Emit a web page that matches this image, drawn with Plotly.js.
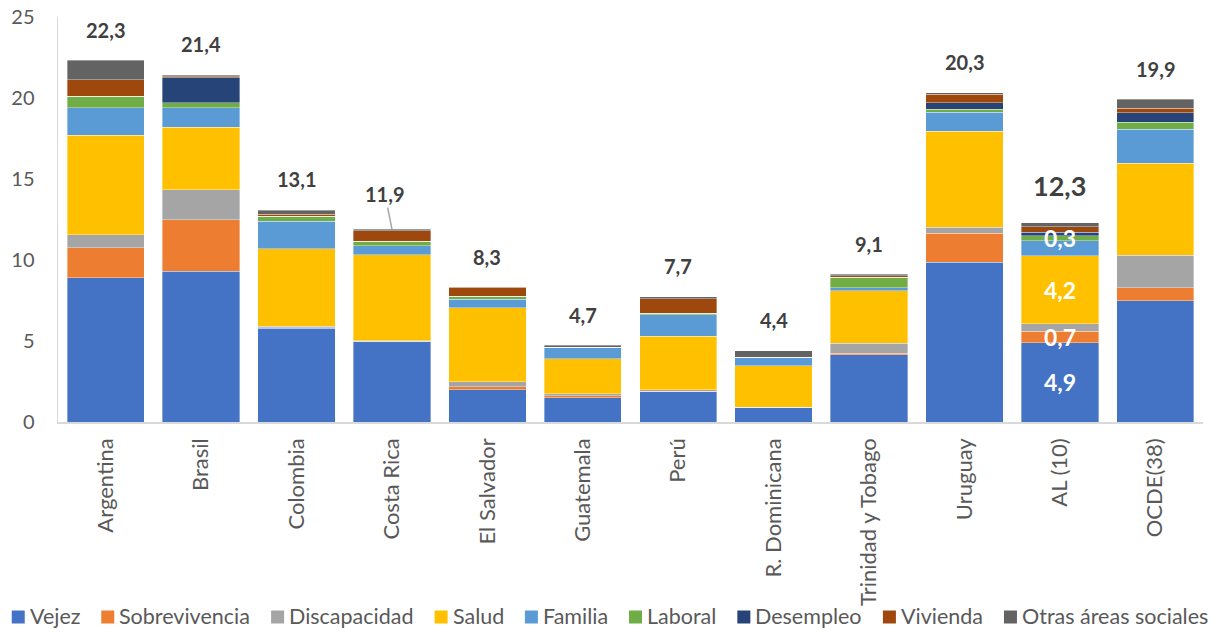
<!DOCTYPE html>
<html>
<head>
<meta charset="utf-8">
<script src="https://cdn.plot.ly/plotly-3.0.1.min.js"></script>
<style>html,body{margin:0;padding:0;background:#fff;}#chart{width:1221px;height:632px;}</style>
</head>
<body>
<div id="chart"></div>
<script>
const categories = ["Argentina","Brasil","Colombia","Costa Rica","El Salvador","Guatemala","Perú","R. Dominicana","Trinidad y Tobago","Uruguay","AL (10)","OCDE(38)"];
const vejez         = [8.90, 9.30, 5.80, 5.00, 2.00, 1.50, 1.87, 0.90, 4.14, 9.85, 4.90, 7.50];
const sobrevivencia = [1.85, 3.20, 0.03, 0.00, 0.17, 0.12, 0.03, 0.00, 0.10, 1.80, 0.70, 0.80];
const discapacidad  = [0.80, 1.85, 0.07, 0.02, 0.33, 0.13, 0.10, 0.02, 0.62, 0.37, 0.45, 2.00];
const salud         = [6.15, 3.85, 4.80, 5.30, 4.55, 2.15, 3.30, 2.55, 3.23, 5.94, 4.20, 5.66];
const familia       = [1.70, 1.20, 1.68, 0.57, 0.52, 0.70, 1.33, 0.53, 0.20, 1.16, 0.95, 2.10];
const laboral       = [0.72, 0.30, 0.33, 0.28, 0.20, 0.02, 0.09, 0.00, 0.66, 0.18, 0.30, 0.45];
const desempleo     = [0.00, 1.55, 0.00, 0.00, 0.00, 0.00, 0.00, 0.00, 0.00, 0.41, 0.20, 0.57];
const vivienda      = [1.00, 0.05, 0.12, 0.63, 0.55, 0.00, 0.88, 0.00, 0.07, 0.52, 0.35, 0.30];
const otras         = [1.20, 0.10, 0.25, 0.10, 0.02, 0.12, 0.12, 0.40, 0.10, 0.08, 0.25, 0.55];
const totals        = [22.3, 21.4, 13.1, 11.9, 8.3, 4.7, 7.7, 4.4, 9.1, 20.3, 12.3, 19.9];
const yTicks        = [0, 5, 10, 15, 20, 25];

const seriesNames  = ["Vejez","Sobrevivencia","Discapacidad","Salud","Familia","Laboral","Desempleo","Vivienda","Otras áreas sociales"];
const seriesValues = [vejez, sobrevivencia, discapacidad, salud, familia, laboral, desempleo, vivienda, otras];
const colors = ["#4472C4","#ED7D31","#A5A5A5","#FFC000","#5B9BD5","#70AD47","#264478","#9E480E","#636363"];

const FONT = "Lato, 'Open Sans', sans-serif";
const W = 1221, H = 632;
const M = {l: 58, r: 18, t: 17, b: 210};
const PW = W - M.l - M.r, PH = H - M.t - M.b;
const px2x = px => (px - M.l) / PW;
const py2y = py => (H - M.b - py) / PH;

const traces = seriesNames.map((n, i) => ({
  type: "bar",
  name: n,
  x: categories,
  y: seriesValues[i],
  marker: {color: colors[i], line: {color: "rgba(255,255,255,0.6)", width: 0.6}},
  hoverinfo: "skip"
}));

const fmt = v => v.toFixed(1).replace(".", ",");

const annotations = [];
const shapes = [];
totals.forEach((t, i) => {
  const isAL = categories[i] === "AL (10)";
  const isCR = categories[i] === "Costa Rica";
  if (isCR) {
    annotations.push({
      x: categories[i], y: t, xref: "x", yref: "y",
      text: "<b>" + fmt(t) + "</b>",
      showarrow: true, arrowhead: 0, arrowwidth: 1.5, arrowcolor: "#A5A5A5",
      ax: -7, ay: -35, standoff: 0,
      font: {family: FONT, size: 20, color: "#404040"}
    });
  } else {
    annotations.push({
      x: categories[i], y: t, xref: "x", yref: "y",
      text: "<b>" + fmt(t) + "</b>",
      showarrow: false, yanchor: "middle", yshift: isAL ? 37 : 31,
      font: {family: FONT, size: isAL ? 27 : 20, color: "#404040"}
    });
  }
});

// inner labels for AL (10)
const alIdx = categories.indexOf("AL (10)");
const labelSeries = [0, 1, 3, 5]; // Vejez, Sobrevivencia, Salud, Laboral
let cum = [];
let acc = 0;
seriesValues.forEach(arr => { cum.push(acc); acc += arr[alIdx]; });
labelSeries.forEach(s => {
  const v = seriesValues[s][alIdx];
  annotations.push({
    x: categories[alIdx], y: cum[s] + v / 2, xref: "x", yref: "y",
    text: "<b>" + fmt(v) + "</b>", showarrow: false, yanchor: "middle",
    font: {family: FONT, size: 23, color: "#FFFFFF"}
  });
});

// legend (single row, Excel-like spacing)
const LEG_FONT = 21.5, SQ = 13, SQ_GAP = 5, ITEM_GAP = 21, LEG_CY = 617, LEG_CX = 610;
const ctx = document.createElement("canvas").getContext("2d");
ctx.font = LEG_FONT + "px Lato";
const tw = seriesNames.map(n => ctx.measureText(n).width);
const totalW = tw.reduce((a, b) => a + b, 0) + seriesNames.length * (SQ + SQ_GAP) + (seriesNames.length - 1) * ITEM_GAP;
let cx = LEG_CX - totalW / 2;
seriesNames.forEach((n, i) => {
  shapes.push({
    type: "rect", xref: "paper", yref: "paper",
    x0: px2x(cx), x1: px2x(cx + SQ), y0: py2y(LEG_CY + SQ / 2), y1: py2y(LEG_CY - SQ / 2),
    fillcolor: colors[i], line: {width: 0}
  });
  annotations.push({
    xref: "paper", yref: "paper", x: px2x(cx + SQ + SQ_GAP - 1), y: py2y(LEG_CY - 1),
    xanchor: "left", yanchor: "middle", showarrow: false, text: n, borderpad: 0,
    font: {family: FONT, size: LEG_FONT, color: "#595959"}
  });
  cx += SQ + SQ_GAP + tw[i] + ITEM_GAP;
});

const layout = {
  width: W, height: H,
  barmode: "stack",
  bargap: 0.19,
  margin: M,
  paper_bgcolor: "#fff", plot_bgcolor: "#fff",
  font: {family: FONT, color: "#595959"},
  showlegend: false,
  xaxis: {
    tickangle: -90, tickfont: {family: FONT, size: 22, color: "#595959"},
    showline: true, linecolor: "#D9D9D9", linewidth: 1.5,
    ticks: "", showgrid: false, ticklabelstandoff: 6
  },
  yaxis: {
    range: [0, 25], tickvals: yTicks, ticktext: yTicks.map(String),
    showgrid: false, zeroline: false, showline: true, linecolor: "#D9D9D9", linewidth: 1.5,
    tickfont: {family: FONT, size: 20, color: "#595959"},
    ticks: "", ticklen: 0, ticklabelstandoff: 18
  },
  shapes: shapes,
  annotations: annotations
};

Plotly.newPlot("chart", traces, layout, {displayModeBar: false, staticPlot: true});
</script>
</body>
</html>
